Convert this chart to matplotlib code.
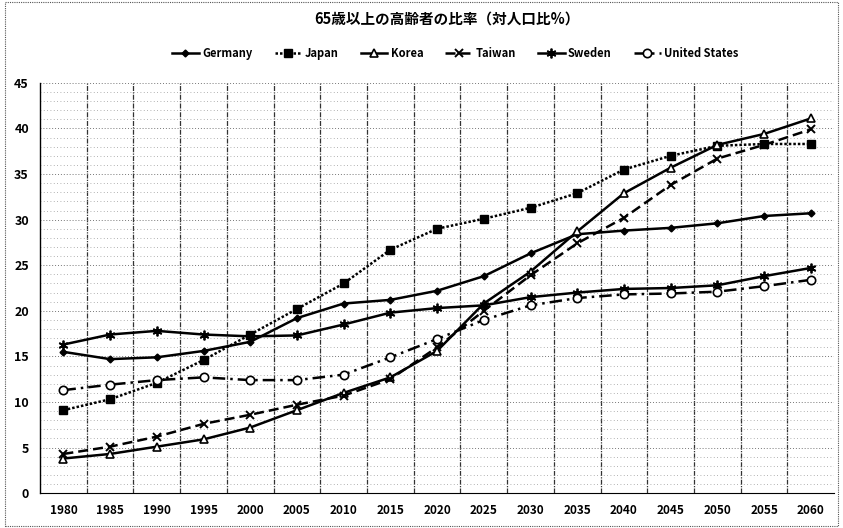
import numpy as np
import matplotlib
matplotlib.use("Agg")
import matplotlib.pyplot as plt
from matplotlib.patches import Rectangle

plt.rcParams['font.family'] = ['Noto Sans CJK JP', 'DejaVu Sans']

years = [1980, 1985, 1990, 1995, 2000, 2005, 2010, 2015, 2020,
         2025, 2030, 2035, 2040, 2045, 2050, 2055, 2060]
germany = [15.5, 14.7, 14.9, 15.6, 16.6, 19.2, 20.8, 21.2, 22.2,
           23.8, 26.3, 28.4, 28.8, 29.1, 29.6, 30.4, 30.7]
japan = [9.1, 10.3, 12.1, 14.6, 17.4, 20.2, 23.0, 26.7, 29.0,
         30.1, 31.3, 32.9, 35.5, 37.0, 38.1, 38.3, 38.3]
korea = [3.8, 4.3, 5.1, 5.9, 7.2, 9.1, 11.0, 12.7, 15.6,
         20.8, 24.3, 28.7, 32.9, 35.7, 38.2, 39.4, 41.1]
taiwan = [4.3, 5.1, 6.2, 7.6, 8.6, 9.7, 10.7, 12.5, 16.0,
          20.0, 23.9, 27.4, 30.2, 33.8, 36.7, 38.2, 39.9]
sweden = [16.3, 17.4, 17.8, 17.4, 17.2, 17.3, 18.5, 19.8, 20.3,
          20.6, 21.5, 22.0, 22.4, 22.5, 22.8, 23.8, 24.7]
usa = [11.3, 11.9, 12.4, 12.7, 12.4, 12.4, 13.0, 14.9, 16.9,
       19.0, 20.6, 21.4, 21.8, 21.9, 22.1, 22.7, 23.4]

fig = plt.figure(figsize=(8.43, 5.28), dpi=100)
fig.patches.append(Rectangle((0.006, 0.004), 0.988, 0.992, transform=fig.transFigure,
                             fill=False, ls=(0, (1, 1)), lw=0.8, ec='#555555'))
ax = fig.add_axes([0.0475, 0.066, 0.942, 0.777])

x = np.arange(len(years))
ax.plot(x, germany, color='black', lw=1.8, marker='D', ms=3.5, label='Germany')
ax.plot(x, japan, color='black', lw=1.8, ls=(0, (1, 0.8)), marker='s', ms=6, label='Japan')
ax.plot(x, korea, color='black', lw=1.8, marker='^', ms=6, mfc='white', mew=1.2, label='Korea')
ax.plot(x, taiwan, color='black', lw=1.8, ls=(0, (4, 2)), marker='x', ms=6, mew=1.4, label='Taiwan')
ax.plot(x, sweden, color='black', lw=1.8, marker=(6, 2, 0), ms=7, mew=1.3, label='Sweden')
ax.plot(x, usa, color='black', lw=1.8, ls=(0, (5, 2, 1, 2)), marker='o', ms=6, mfc='white', mew=1.2,
        label='United States')

ax.set_xlim(-0.5, len(years) - 0.5)
ax.set_ylim(0, 45)
ax.set_xticks(x)
ax.set_xticklabels([str(y) for y in years], fontweight='bold', fontsize=8.5)
ax.set_yticks(range(0, 46, 5))
ax.set_yticklabels([str(v) for v in range(0, 46, 5)], fontweight='bold', fontsize=9)
ax.set_yticks(range(0, 46, 1), minor=True)
ax.set_xticks(x[:-1] + 0.5, minor=True)
ax.tick_params(axis='both', which='both', length=0, pad=8)
ax.grid(True, which='major', axis='y', ls=(0, (1, 2)), lw=0.7, color='#777777')
ax.grid(True, which='minor', axis='y', ls=(0, (1, 3)), lw=0.6, color='#999999')
ax.grid(True, which='minor', axis='x', ls=(0, (4, 1, 1, 1)), lw=0.9, color='#333333')
for s in ['top', 'right']:
    ax.spines[s].set_visible(False)
ax.spines['left'].set_linewidth(1.0)
ax.spines['bottom'].set_linestyle((0, (1, 1)))
ax.spines['bottom'].set_linewidth(0.8)

fig.text(0.53, 0.965, '65歳以上の高齢者の比率（対人口比%）', ha='center', va='center',
         fontsize=10.5, fontweight='bold')
fig.legend(loc='center', bbox_to_anchor=(0.54, 0.898), ncol=6, frameon=False,
           handlelength=2.4, columnspacing=2.0, handletextpad=0.3,
           prop={'weight': 'bold', 'size': 8})

fig.savefig('out.png', dpi=100)
